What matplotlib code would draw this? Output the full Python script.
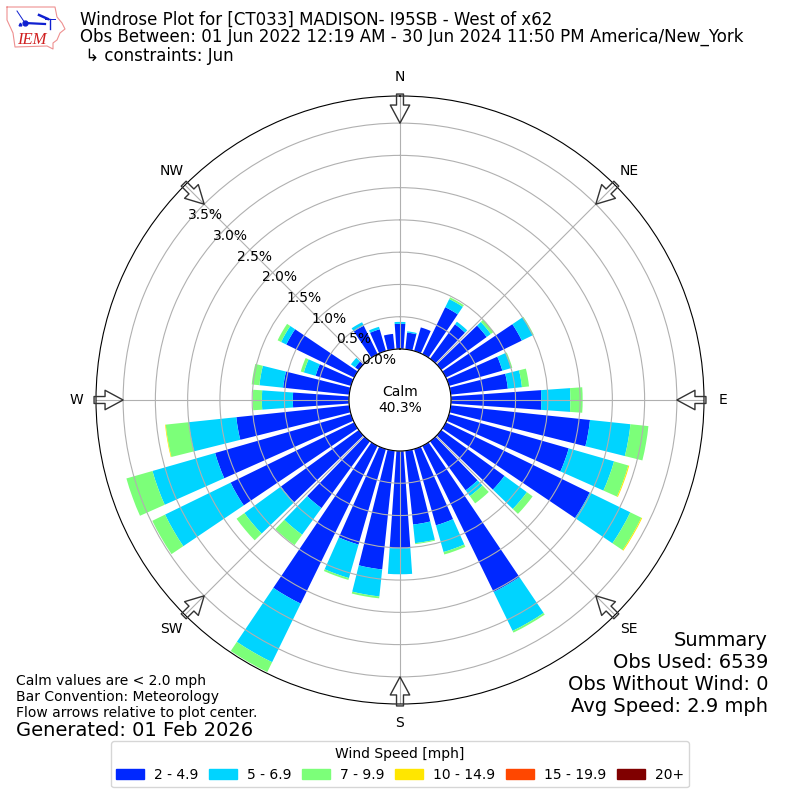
import numpy as np
import matplotlib
matplotlib.use("Agg")
import matplotlib.pyplot as plt
from matplotlib.patches import Patch

directions = np.arange(0, 360, 10)

# percent of obs by speed bin for each direction
speed_2_5 = [0.39, 0.26, 0.38, 0.81, 0.66, 0.87, 1.31, 0.86, 0.89, 1.40, 2.17, 1.93,
             2.48, 1.21, 0.94, 2.52, 1.23, 1.15, 1.51, 1.85, 1.54, 2.72, 1.28, 1.49,
             2.13, 2.19, 1.76, 0.87, 1.03, 0.57, 1.17, 0.07, 0.00, 0.49, 0.35, 0.24]
speed_5_7 = [0.03, 0.02, 0.00, 0.14, 0.05, 0.08, 0.19, 0.14, 0.22, 0.45, 0.63, 0.73,
             0.70, 0.43, 0.11, 0.67, 0.43, 0.29, 0.40, 0.42, 0.54, 1.01, 0.51, 0.70,
             1.13, 1.01, 0.74, 0.48, 0.37, 0.19, 0.09, 0.08, 0.00, 0.06, 0.04, 0.00]
speed_7_10 = [0.00, 0.00, 0.00, 0.03, 0.00, 0.05, 0.015, 0.02, 0.11, 0.19, 0.28, 0.23,
              0.19, 0.11, 0.14, 0.03, 0.04, 0.015, 0.00, 0.03, 0.03, 0.17, 0.20, 0.15,
              0.22, 0.42, 0.36, 0.14, 0.12, 0.05, 0.06, 0.00, 0.00, 0.00, 0.00, 0.00]
speed_10_15 = [0.00, 0.00, 0.00, 0.00, 0.00, 0.00, 0.00, 0.00, 0.00, 0.00, 0.00, 0.015,
               0.015, 0.00, 0.00, 0.00, 0.00, 0.00, 0.00, 0.00, 0.00, 0.00, 0.00, 0.00,
               0.00, 0.00, 0.01, 0.00, 0.00, 0.00, 0.00, 0.00, 0.00, 0.00, 0.00, 0.00]
bins = [speed_2_5, speed_5_7, speed_7_10, speed_10_15]

bin_labels = ["2 - 4.9", "5 - 6.9", "7 - 9.9", "10 - 14.9", "15 - 19.9", "20+"]
colors = ["#0028ff", "#00d4ff", "#7cff79", "#ffe600", "#ff4700", "#800000"]

compass = ["N", "NE", "E", "SE", "S", "SW", "W", "NW"]
compass_deg = [0, 45, 90, 135, 180, 225, 270, 315]
rticks = [0, 0.5, 1.0, 1.5, 2.0, 2.5, 3.0, 3.5]

fig = plt.figure(figsize=(8, 8), dpi=100)
ax = fig.add_axes([0.12, 0.12, 0.76, 0.76], projection="polar")
ax.set_theta_zero_location("N")
ax.set_theta_direction(-1)

theta = np.radians(directions)
bottom = np.zeros(len(directions))
for vals, c in zip(bins, colors):
    ax.bar(theta, vals, width=np.radians(8), bottom=bottom, color=c, linewidth=0)
    bottom += np.array(vals)

ax.set_rlim(0, 3.92)
ax.set_rorigin(-0.79)
ax.set_rticks(rticks)
ax.set_yticklabels(["%.1f%%" % t for t in rticks], fontsize=10)
ax.set_rlabel_position(310)
ax.set_thetagrids(compass_deg, compass, fontsize=10)
ax.grid(True)

# flow arrows around the rim
for d in compass_deg:
    ax.annotate("", xy=(np.radians(d), 3.5), xytext=(np.radians(d), 3.95),
                annotation_clip=False,
                arrowprops=dict(facecolor="none", edgecolor="#333333", linewidth=1,
                                width=5, headwidth=14, headlength=13, shrink=0))

ax.text(0.5, 0.5, "Calm\n40.3%", transform=ax.transAxes, ha="center", va="center",
        fontsize=10)

# titles
fig.text(0.1, 1 - 25 / 800, "Windrose Plot for [CT033] MADISON- I95SB - West of x62",
         fontsize=12, va="baseline")
fig.text(0.1, 1 - 42 / 800,
         "Obs Between: 01 Jun 2022 12:19 AM - 30 Jun 2024 11:50 PM America/New_York",
         fontsize=12, va="baseline")
fig.text(0.1, 1 - 61 / 800, " \u21b3 constraints: Jun", fontsize=12, va="baseline")

fig.text(768 / 800, 1 - 712 / 800,
         "Summary\nObs Used: 6539\nObs Without Wind: 0\nAvg Speed: 2.9 mph",
         fontsize=14, ha="right", va="baseline")
fig.text(16 / 800, 1 - 717 / 800,
         "Calm values are < 2.0 mph\nBar Convention: Meteorology\nFlow arrows relative to plot center.",
         fontsize=10, va="baseline")
fig.text(16 / 800, 1 - 736 / 800, "Generated: 01 Feb 2026", fontsize=14, va="baseline")

handles = [Patch(color=c, label=l) for c, l in zip(colors, bin_labels)]
fig.legend(handles=handles, title="Wind Speed [mph]", ncol=6, loc="lower center",
           bbox_to_anchor=(0.5, 0.007), fontsize=10, title_fontsize=10,
           handletextpad=0.7, columnspacing=0.8)

# IEM logo, pixel coordinates
logo = fig.add_axes([0, 1 - 55 / 800, 75 / 800, 55 / 800])
logo.set_xlim(0, 75)
logo.set_ylim(55, 0)
logo.axis("off")
outline_x = [7, 55, 57, 62, 65, 60, 57, 53, 53, 47, 15, 13, 7, 7]
outline_y = [7, 7, 17, 23, 29, 33, 40, 43, 49, 46, 47, 33, 20, 7]
logo.plot(outline_x, outline_y, color="#ee9090", lw=0.8)
logo.plot([25, 45], [23, 24], color="#1020d0", lw=1.6)
logo.plot([17, 25], [11, 23], color="#1020d0", lw=0.7)
logo.plot([39, 48], [15, 19], color="#1020d0", lw=1.8)
logo.plot([45, 55], [19, 19], color="#1020d0", lw=0.7)
logo.plot([50, 50], [19, 29], color="#1020d0", lw=1)
logo.plot([25], [23], "o", color="#1020d0", ms=3.5)
logo.plot([20], [24], "^", color="#1020d0", ms=2)
logo.text(17, 44, "IEM", color="#d02020", fontsize=12, family="Liberation Serif",
          style="italic", va="baseline")

fig.savefig("out.png", dpi=100)
